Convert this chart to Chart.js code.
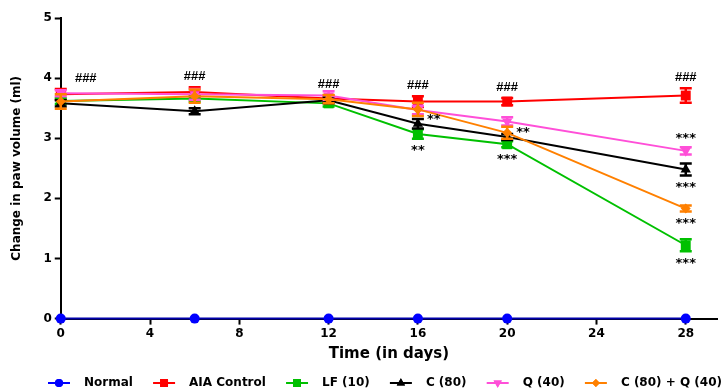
<!DOCTYPE html>
<html><head><meta charset="utf-8">
<script src="https://cdn.jsdelivr.net/npm/chart.js@4"></script>
<style>html,body{margin:0;padding:0;background:#fff}#wrap{width:724px;height:389px}</style>
</head><body><div id="wrap"><canvas id="c" width="724" height="389"></canvas></div>
<script>
const days = [0, 6, 12, 16, 20, 28];
const xTicks = [0, 4, 8, 12, 16, 20, 24, 28];
const yTicks = [0, 1, 2, 3, 4, 5];
const seriesNames = ['Normal', 'AIA Control', 'LF (10)', 'C (80)', 'Q (40)', 'C (80) + Q (40)'];
const normal   = [0, 0, 0, 0, 0, 0];
const aia      = [3.73, 3.77, 3.66, 3.61, 3.61, 3.71];
const lf       = [3.62, 3.66, 3.58, 3.07, 2.90, 1.22];
const c80      = [3.58, 3.45, 3.63, 3.24, 3.02, 2.48];
const q40      = [3.75, 3.73, 3.71, 3.47, 3.28, 2.79];
const cq       = [3.61, 3.70, 3.65, 3.48, 3.09, 1.83];
const normalErr = [0, 0, 0, 0, 0, 0];
const aiaErr   = [0.09, 0.08, 0.05, 0.09, 0.06, 0.12];
const lfErr    = [0.05, 0.05, 0.05, 0.08, 0.05, 0.1];
const c80Err   = [0.05, 0.05, 0.05, 0.08, 0.05, 0.1];
const q40Err   = [0.05, 0.09, 0.07, 0.07, 0.07, 0.06];
const cqErr    = [0.12, 0.11, 0.07, 0.11, 0.1, 0.05];
const hashLabels = ['###', '###', '###', '###', '###', '###'];
// star annotations: [series index, day index, text, placement]
const starNotes = [
  [2, 3, '**', 'below'],
  [3, 3, '**', 'right'],
  [3, 4, '**', 'right'],
  [2, 4, '***', 'below'],
  [4, 5, '***', 'above'],
  [3, 5, '***', 'below'],
  [5, 5, '***', 'below'],
  [2, 5, '***', 'below']
];

const values = [normal, aia, lf, c80, q40, cq];
const errs = [normalErr, aiaErr, lfErr, c80Err, q40Err, cqErr];
const colors = ['#0000FF', '#FF0000', '#00C000', '#000000', '#FF4FD8', '#FF8000'];
const styles = ['circle', 'rect', 'rect', 'triangle', 'triangle', 'rectRot'];
const rots = [0, 0, 0, 0, 180, 0];
const radii = [5, 7, 7, 6, 6, 5];
const lineColors = ['#0000AA', '#FF0000', '#00C000', '#000000', '#FF4FD8', '#FF8000'];
const FONT = '"DejaVu Sans", Verdana, sans-serif';
const NOTE_FONT = '"Liberation Sans", Arial, sans-serif';

const errorBars = {
  id: 'errorBars',
  afterDatasetDraw(chart, args) {
    const i = args.index;
    const e = errs[i];
    const xs = chart.scales.x, ys = chart.scales.y;
    const ctx = chart.ctx;
    ctx.save();
    ctx.strokeStyle = colors[i];
    ctx.lineWidth = 2.5;
    days.forEach((d, k) => {
      if (!e[k]) return;
      const x = xs.getPixelForValue(d);
      const y1 = ys.getPixelForValue(values[i][k] + e[k]);
      const y2 = ys.getPixelForValue(values[i][k] - e[k]);
      ctx.beginPath();
      ctx.moveTo(x, y1); ctx.lineTo(x, y2);
      ctx.moveTo(x - 6, y1); ctx.lineTo(x + 6, y1);
      ctx.moveTo(x - 6, y2); ctx.lineTo(x + 6, y2);
      ctx.stroke();
    });
    ctx.restore();
  }
};

const notes = {
  id: 'notes',
  afterDatasetsDraw(chart) {
    const xs = chart.scales.x, ys = chart.scales.y;
    const ctx = chart.ctx;
    ctx.save();
    ctx.fillStyle = '#000';
    ctx.font = 'bold 13px ' + NOTE_FONT;
    ctx.textAlign = 'center';
    ctx.textBaseline = 'middle';
    days.forEach((d, k) => {
      let x = xs.getPixelForValue(d);
      if (k === 0) x += 25;
      const y = ys.getPixelForValue(aia[k] + aiaErr[k]) - 11;
      ctx.fillText(hashLabels[k], x, y);
    });
    ctx.font = 'bold 13px ' + FONT;
    starNotes.forEach(([s, k, t, p]) => {
      const x = xs.getPixelForValue(days[k]);
      const v = values[s][k], e = errs[s][k];
      if (p === 'below') {
        ctx.textAlign = 'center';
        ctx.fillText(t, x, ys.getPixelForValue(v - e) + 12);
      } else if (p === 'above') {
        ctx.textAlign = 'center';
        ctx.fillText(t, x, ys.getPixelForValue(v + e) - 9);
      } else {
        ctx.textAlign = 'left';
        ctx.fillText(t, x + 9, ys.getPixelForValue(v) - 4);
      }
    });
    ctx.restore();
  }
};

const bottomLegend = {
  id: 'bottomLegend',
  afterDraw(chart) {
    const ctx = chart.ctx;
    ctx.save();
    ctx.font = 'bold 12px ' + FONT;
    ctx.textBaseline = 'middle';
    ctx.textAlign = 'left';
    const y = chart.height - 6;
    const lineW = 22, gapText = 14;
    const widths = seriesNames.map(n => ctx.measureText(n).width);
    const startX = 48, endX = 722;
    const total = widths.reduce((a, b) => a + b, 0) + seriesNames.length * (lineW + gapText);
    const gap = (endX - startX - total) / (seriesNames.length - 1);
    let x = startX;
    seriesNames.forEach((n, i) => {
      ctx.strokeStyle = colors[i];
      ctx.lineWidth = 2;
      ctx.beginPath(); ctx.moveTo(x, y); ctx.lineTo(x + lineW, y); ctx.stroke();
      ctx.fillStyle = colors[i];
      Chart.helpers.drawPoint(ctx, {pointStyle: styles[i], rotation: rots[i], radius: radii[i] * 0.8, borderWidth: 0}, x + lineW / 2, y);
      ctx.fill();
      ctx.fillStyle = '#000';
      ctx.fillText(n, x + lineW + gapText, y);
      x += lineW + gapText + widths[i] + gap;
    });
    ctx.restore();
  }
};

const datasets = seriesNames.map((n, i) => ({
  label: n,
  data: days.map((d, k) => ({x: d, y: values[i][k]})),
  borderColor: lineColors[i],
  backgroundColor: colors[i],
  pointBackgroundColor: colors[i],
  pointBorderColor: colors[i],
  pointStyle: styles[i],
  rotation: rots[i],
  pointRadius: radii[i],
  pointBorderWidth: 0,
  borderWidth: 2,
  tension: 0,
  order: 5 - i,
  clip: false
}));

const font = {family: FONT, weight: 'bold'};

new Chart(document.getElementById('c'), {
  type: 'line',
  data: {datasets},
  plugins: [errorBars, notes, bottomLegend],
  options: {
    responsive: false,
    animation: false,
    devicePixelRatio: 1,
    layout: {padding: {left: 4, right: 0, top: 18, bottom: 26}},
    plugins: {
      tooltip: {enabled: false},
      legend: {display: false}
    },
    scales: {
      x: {
        type: 'linear', min: 0, max: 29.4,
        afterBuildTicks(s) { s.ticks = xTicks.map(v => ({value: v})); },
        border: {color: '#000', width: 2},
        grid: {drawOnChartArea: false, drawTicks: true, tickLength: 6, tickColor: '#000', tickWidth: 2},
        ticks: {color: '#000', font: {...font, size: 12}, padding: 2, maxRotation: 0},
        title: {display: true, text: 'Time (in days)', color: '#000', font: {...font, size: 15}, padding: {top: 2, bottom: 0}}
      },
      y: {
        min: 0, max: 5,
        afterBuildTicks(s) { s.ticks = yTicks.map(v => ({value: v})); },
        border: {color: '#000', width: 2},
        grid: {drawOnChartArea: false, drawTicks: true, tickLength: 6, tickColor: '#000', tickWidth: 2},
        ticks: {color: '#000', font: {...font, size: 12}, padding: 3},
        title: {display: true, text: 'Change in paw volume (ml)', color: '#000', font: {...font, size: 12}, padding: {top: 6, bottom: 16}}
      }
    }
  }
});
</script></body></html>
